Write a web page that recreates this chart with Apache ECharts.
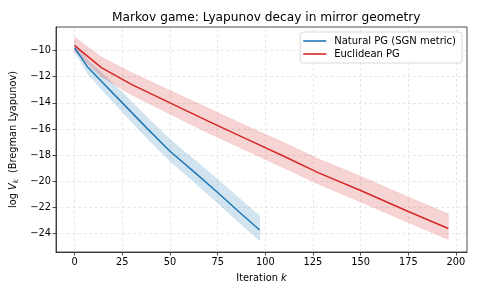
<!DOCTYPE html>
<html>
<head>
<meta charset="utf-8">
<script src="https://cdn.jsdelivr.net/npm/echarts@6/dist/echarts.min.js"></script>
<style>
html,body{margin:0;padding:0;background:#fff;}
#c{width:478px;height:295px;}
</style>
</head>
<body>
<div id="c"></div>
<script>
// ---- data ----
const natK     = [0, 7, 14, 25, 38, 50, 64, 75, 86, 97];
const natMean  = [-9.8, -11.3, -12.35, -14.0, -15.95, -17.7, -19.45, -20.85, -22.3, -23.72];
const natUpper = [-9.45, -10.75, -11.65, -13.2, -15.1, -16.8, -18.5, -19.85, -21.25, -22.64];
const natLower = [-10.1, -11.8, -12.95, -14.7, -16.7, -18.45, -20.23, -21.65, -23.1, -24.52];

const eucK     = [0, 14, 30, 50, 70, 90, 110, 128, 150, 175, 196];
const eucMean  = [-9.62, -11.3, -12.6, -14.0, -15.4, -16.75, -18.1, -19.35, -20.7, -22.3, -23.6];
const eucUpper = [-8.98, -10.5, -11.7, -13.05, -14.4, -15.75, -17.05, -18.3, -19.6, -21.2, -22.48];
const eucLower = [-10.07, -12.0, -13.4, -14.85, -16.3, -17.65, -19.0, -20.23, -21.57, -23.15, -24.45];

const xTicks = [0, 25, 50, 75, 100, 125, 150, 175, 200];
const yTicks = [-24, -22, -20, -18, -16, -14, -12, -10];

const seriesNames = ['Natural PG (SGN metric)', 'Euclidean PG'];
const titleText = 'Markov game: Lyapunov decay in mirror geometry';

// ---- chart ----
const BLUE = '#1f77b4', RED = '#d62728';
const FONT = 'DejaVu Sans';
const FS = 9.8;
const fmt = v => (v < 0 ? '\u2212' + Math.abs(v) : String(v));

function pairs(xs, ys) { return xs.map((x, i) => [x, ys[i]]); }

function bandSeries(xs, up, lo, fill) {
  return {
    type: 'custom',
    silent: true,
    z: 2,
    data: [[xs[0], up[0]]],
    renderItem: function (params, api) {
      if (params.dataIndex !== 0) return;
      const pts = [];
      for (let i = 0; i < xs.length; i++) pts.push(api.coord([xs[i], up[i]]));
      for (let i = xs.length - 1; i >= 0; i--) pts.push(api.coord([xs[i], lo[i]]));
      return { type: 'polygon', shape: { points: pts }, style: { fill: fill, stroke: fill, lineWidth: 0.5 } };
    }
  };
}

const gridLineStyle = { color: '#dedede', width: 0.7, type: [3, 2.5] };
const gridLines = xTicks.map(v => ({ xAxis: v })).concat(yTicks.map(v => ({ yAxis: v })));

const chart = echarts.init(document.getElementById('c'), null, { renderer: 'canvas' });
chart.setOption({
  animation: false,
  backgroundColor: '#fff',
  textStyle: { fontFamily: FONT },
  title: {
    text: titleText, left: 107, top: 7,
    textStyle: { fontFamily: FONT, fontSize: 12.2, fontWeight: 'normal', color: '#000' }
  },
  grid: { left: 56, right: 11, top: 27, bottom: 43, show: true, borderColor: '#222', borderWidth: 0.8, backgroundColor: 'transparent' },
  legend: {
    right: 16, top: 32, orient: 'vertical',
    data: seriesNames,
    icon: 'rect', itemWidth: 23, itemHeight: 1.6, itemGap: 3,
    padding: [4, 6, 4, 3],
    borderColor: '#d0d0d0', borderWidth: 0.8, borderRadius: 3,
    backgroundColor: 'rgba(255,255,255,0.8)',
    textStyle: { fontFamily: FONT, fontSize: 10, color: '#000', padding: [0, 0, 0, 3] }
  },
  xAxis: {
    type: 'value', min: -9.8, max: 205.8,
    name: '{n|Iteration }{i|k}', nameLocation: 'middle', nameGap: 21,
    nameTextStyle: { rich: { n: { fontFamily: FONT, fontSize: FS, color: '#000' }, i: { fontFamily: FONT, fontSize: FS, fontStyle: 'italic', color: '#000' } } },
    axisLine: { show: true, onZero: false, lineStyle: { color: '#222', width: 0.8 } },
    axisTick: { show: true, customValues: xTicks, length: 3.5, lineStyle: { color: '#222', width: 0.8 } },
    axisLabel: { customValues: xTicks, fontFamily: FONT, fontSize: FS, color: '#000', margin: 5, formatter: fmt },
    splitLine: { show: false }
  },
  yAxis: {
    type: 'value', min: -25.4, max: -8.2,
    name: '{n|log }{i|V}{s|k}{n|  (Bregman Lyapunov)}', nameLocation: 'middle', nameGap: 29, nameRotate: 90,
    nameTextStyle: { rich: {
      n: { fontFamily: FONT, fontSize: FS, color: '#000' },
      i: { fontFamily: FONT, fontSize: FS, fontStyle: 'italic', color: '#000' },
      s: { fontFamily: FONT, fontSize: 7, fontStyle: 'italic', color: '#000', verticalAlign: 'bottom', padding: [4, 0, 0, 0] }
    } },
    axisLine: { show: true, onZero: false, lineStyle: { color: '#222', width: 0.8 } },
    axisTick: { show: true, customValues: yTicks, length: 3.5, lineStyle: { color: '#222', width: 0.8 } },
    axisLabel: { customValues: yTicks, fontFamily: FONT, fontSize: FS, color: '#000', margin: 5, formatter: fmt },
    splitLine: { show: false }
  },
  series: [
    { type: 'line', data: [], z: 0, silent: true,
      markLine: { z: 0, zlevel: 0, silent: true, symbol: ['none', 'none'], label: { show: false }, lineStyle: gridLineStyle, animation: false, data: gridLines } },
    bandSeries(natK, natUpper, natLower, 'rgba(31,119,180,0.2)'),
    bandSeries(eucK, eucUpper, eucLower, 'rgba(214,39,40,0.2)'),
    { name: seriesNames[0], type: 'line', data: pairs(natK, natMean), showSymbol: false, symbol: 'none', z: 4,
      lineStyle: { color: BLUE, width: 1.5 }, itemStyle: { color: BLUE } },
    { name: seriesNames[1], type: 'line', data: pairs(eucK, eucMean), showSymbol: false, symbol: 'none', z: 4,
      lineStyle: { color: RED, width: 1.5 }, itemStyle: { color: RED } }
  ]
});
</script>
</body>
</html>
